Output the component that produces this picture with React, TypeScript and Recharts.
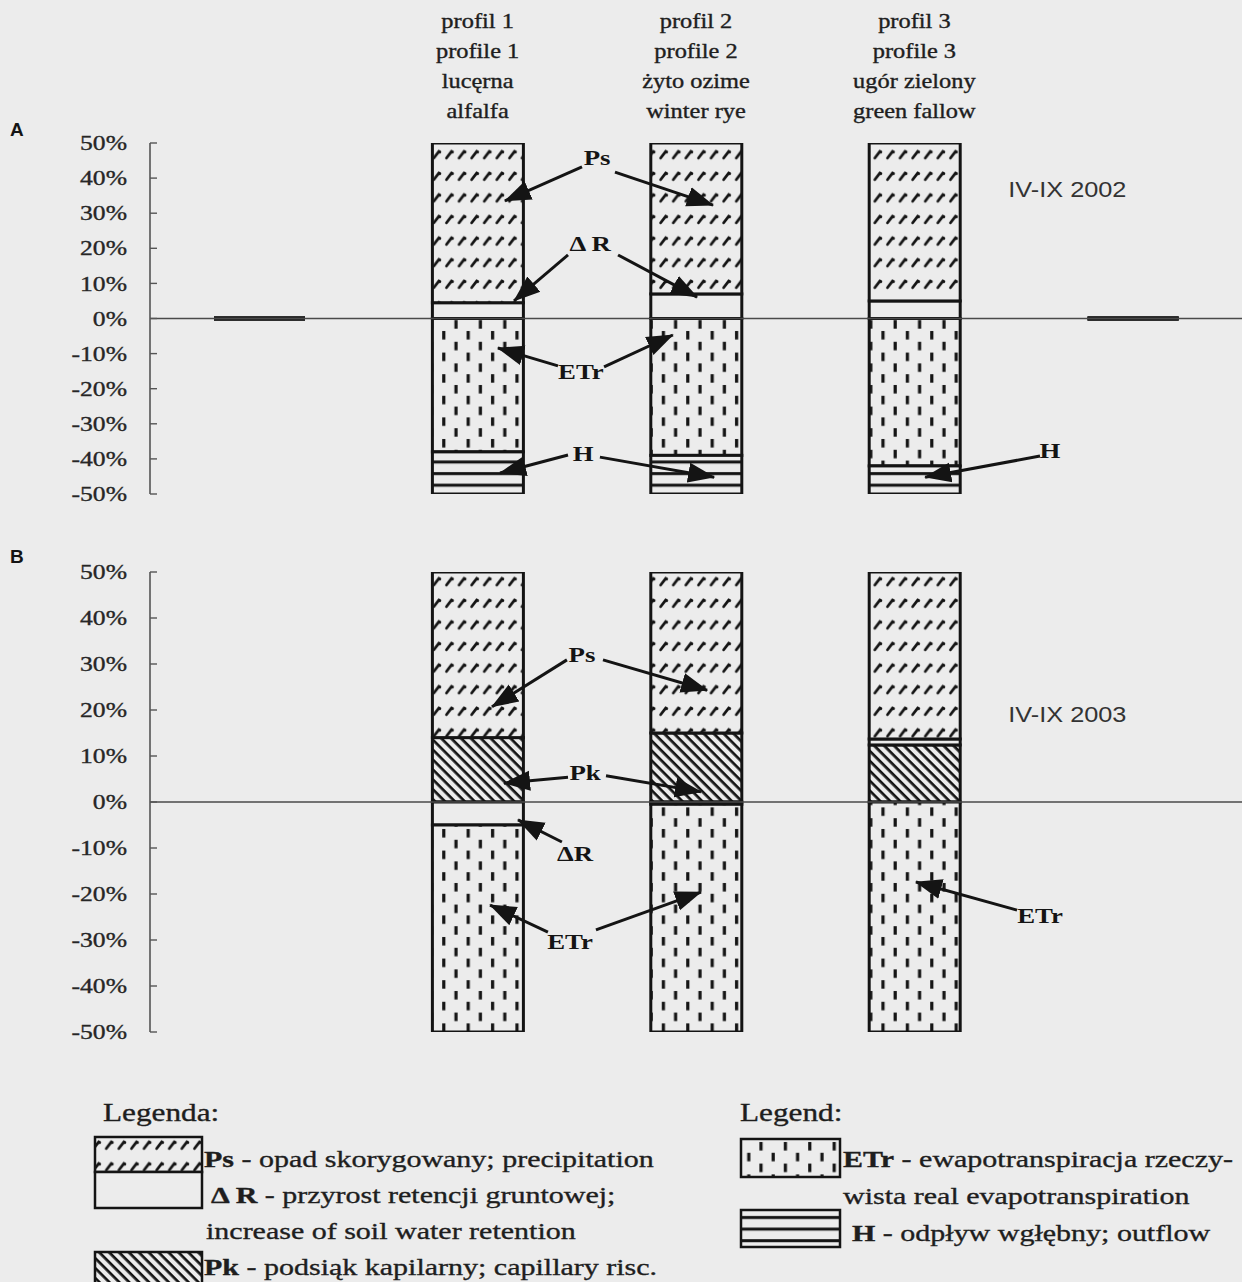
import React from 'react';
import { BarChart, Bar, XAxis, YAxis, ReferenceLine, ReferenceDot } from 'recharts';

// categories: two empty slots around the three profiles
const categories = ['c0', 'p1', 'p2', 'p3', 'c4'];
const profileNames: Record<string, string[]> = {
  p1: ['profil 1', 'profile 1', 'lucęrna', 'alfalfa'],
  p2: ['profil 2', 'profile 2', 'żyto ozime', 'winter rye'],
  p3: ['profil 3', 'profile 3', 'ugór zielony', 'green fallow'],
};
const yTicks = [50, 40, 30, 20, 10, 0, -10, -20, -30, -40, -50];

// A: IV-IX 2002 (% of water balance)
const aDR = [0, 4.5, 7, 5, 0];
const aPs = [0, 45.5, 43, 45, 0];
const aETr = [0, -38, -39, -42, 0];
const aH = [0, -12, -11, -8, 0];

// B: IV-IX 2003
const bPk = [null, 14, 15, 12.4, null];
const bDR = [null, -5, -0.5, 1.3, null];
const bPs = [null, 36, 35, 36.3, null];
const bETr = [null, -45, -49.5, -50, null];

// annotations: [text, category position (0..4), %]
const labelsA: [string, number, number][] = [
  ['Ps', 1.547, 46], ['Δ R', 1.515, 21.5], ['ETr', 1.473, -15.2], ['H', 1.483, -38.3], ['H', 3.621, -37.5],
];
// arrows: [x from, y from, x to, y to]
const arrowsA: number[][] = [
  [1.478, 43.2, 1.125, 33.5], [1.629, 41.7, 2.078, 32.3],
  [1.414, 18.1, 1.167, 5.0], [1.643, 18.1, 2.005, 6.1],
  [1.368, -13.5, 1.093, -8.4], [1.579, -13.8, 1.894, -4.7],
  [1.414, -38.9, 1.103, -44.0], [1.56, -39.5, 2.083, -45.2],
  [3.575, -39.2, 3.049, -45.2],
];
const labelsB: [string, number, number][] = [
  ['Ps', 1.478, 32.2], ['Pk', 1.492, 6.5], ['ΔR', 1.446, -11.1], ['ETr', 1.423, -30.4], ['ETr', 3.575, -24.6],
];
const arrowsB: number[][] = [
  [1.409, 30.9, 1.066, 20.7], [1.574, 30.9, 2.051, 24.3],
  [1.414, 5.4, 1.121, 4.1], [1.588, 5.7, 2.023, 2.2],
  [1.386, -8.7, 1.185, -3.9],
  [1.322, -28.3, 1.057, -22.4], [1.542, -27.8, 2.023, -19.6],
  [3.47, -23.5, 3.007, -17.4],
];

const INK = '#141414';
const BG = '#ececec';
const SERIF = '"Liberation Serif", "Times New Roman", serif';
const SANS = '"Liberation Sans", Arial, sans-serif';
const SX = 1.22;
const LSX = 1.25;

// the hidden numeric axis spans the whole plot as 0..4; category i sits at (i + 0.5) * 0.8
const pos = (v: number) => (v + 0.5) * 0.8;

const dataA = categories.map((c, i) => ({ cat: c, dR: aDR[i], Ps: aPs[i], ETr: aETr[i], H: aH[i] }));
const dataB = categories.map((c, i) => ({ cat: c, Pk: bPk[i], dR: bDR[i], Ps: bPs[i], ETr: bETr[i] }));

const patterns = (s: string, psY: number, etrY: number, hY: number) => (
  <defs>
    <pattern id={`ps${s}`} patternUnits="userSpaceOnUse" x={2} y={psY} width={12.6} height={21.6}>
      <rect width={12.6} height={21.6} fill={BG} />
      <path d="M3.5,13.5 L8.5,7 L9.5,7.5" stroke={INK} strokeWidth={2.8} strokeLinecap="round" fill="none" />
    </pattern>
    <pattern id={`etr${s}`} patternUnits="userSpaceOnUse" x={0} y={etrY} width={24.4} height={21.6}>
      <rect width={24.4} height={21.6} fill={BG} />
      <rect x={3} y={2} width={3.2} height={8.5} fill={INK} />
      <rect x={15.2} y={12.8} width={3.2} height={8.5} fill={INK} />
    </pattern>
    <pattern id={`h${s}`} patternUnits="userSpaceOnUse" x={0} y={hY} width={10} height={11.6}>
      <rect width={10} height={11.6} fill={BG} />
      <rect x={0} y={4} width={10} height={3} fill={INK} />
    </pattern>
    <pattern id={`pk${s}`} patternUnits="userSpaceOnUse" width={10} height={7} patternTransform="rotate(45)">
      <rect width={10} height={7} fill={BG} />
      <rect x={0} y={2} width={10} height={2.7} fill={INK} />
    </pattern>
    <marker id={`arr${s}`} markerUnits="userSpaceOnUse" markerWidth={30} markerHeight={24} refX={26} refY={12} orient="auto">
      <path d="M0,2 L27,12 L0,22 z" fill={INK} />
    </marker>
  </defs>
);

const segment = (key: string, fill: string, zeroLine: boolean) => (props: any) => {
  const { x, y, width, height, payload } = props;
  const v = payload ? payload[key] : null;
  if (v == null) return <g />;
  if (!height) {
    return zeroLine ? <rect x={x} y={y - 2} width={width} height={4} fill="#222" /> : <g />;
  }
  const top = height < 0 ? y + height : y;
  return <rect x={x} y={top} width={width} height={Math.abs(height)} fill={fill} stroke={INK} strokeWidth={3} />;
};

const ProfileTick = (props: any) => {
  const { x, y, payload } = props;
  const lines = profileNames[payload.value] || [];
  return (
    <g>
      {lines.map((t, i) => (
        <text key={i} transform={`translate(${x},${y - (lines.length - 1 - i) * 30}) scale(${SX},1)`}
          textAnchor="middle" fontFamily={SERIF} fontSize={20} fill="#1e1e1e" stroke="#1e1e1e" strokeWidth={0.35}>{t}</text>
      ))}
    </g>
  );
};

const YTick = (props: any) => {
  const { x, y, payload } = props;
  return (
    <text transform={`translate(${x},${y}) scale(${SX},1)`} textAnchor="end" dominantBaseline="central"
      fontFamily={SERIF} fontSize={21} fill="#262626" stroke="#262626" strokeWidth={0.35}>{payload.value}%</text>
  );
};

const labelShape = (text: string, sans = false) => (p: any) => (
  <text transform={`translate(${p.cx},${p.cy}) scale(${sans ? 1.15 : SX},1)`} textAnchor={sans ? 'start' : 'middle'}
    dominantBaseline="central" fontFamily={sans ? SANS : SERIF} fontWeight={sans ? 'normal' : 'bold'}
    fontSize={22} fill={sans ? '#333' : INK}>{text}</text>
);

const arrowShape = (s: string) => (p: any) => (
  <line x1={p.x1} y1={p.y1} x2={p.x2} y2={p.y2} stroke={INK} strokeWidth={3} markerEnd={`url(#arr${s})`} />
);

function Annotations(s: string, labels: [string, number, number][], arrows: number[][], period: string, py: number) {
  return [
    ...arrows.map((a, i) => (
      <ReferenceLine key={`a${i}`} xAxisId="n" ifOverflow="visible"
        segment={[{ x: pos(a[0]), y: a[1] }, { x: pos(a[2]), y: a[3] }]} shape={arrowShape(s)} />
    )),
    ...labels.map((l, i) => (
      <ReferenceDot key={`l${i}`} xAxisId="n" x={pos(l[1])} y={l[2]} r={0} ifOverflow="visible" shape={labelShape(l[0])} />
    )),
    <ReferenceDot key="period" xAxisId="n" x={pos(3.43)} y={py} r={0} ifOverflow="visible" shape={labelShape(period, true)} />,
  ];
}

const yAxisProps = {
  width: 150,
  domain: [-50, 50] as [number, number],
  ticks: yTicks,
  interval: 0 as const,
  tickSize: -7,
  tickMargin: 30,
  tick: <YTick />,
  axisLine: { stroke: '#555', strokeWidth: 1.6 },
  tickLine: { stroke: '#555', strokeWidth: 1.4 },
  allowDataOverflow: true,
};

export default function App() {
  return (
    <div style={{ position: 'absolute', left: 0, top: 0, width: 1242, height: 1282, background: BG, overflow: 'hidden' }}>
      <div style={{ position: 'absolute', left: 10, top: 119, fontFamily: SANS, fontWeight: 'bold', fontSize: 19, color: INK }}>A</div>
      <div style={{ position: 'absolute', left: 10, top: 546, fontFamily: SANS, fontWeight: 'bold', fontSize: 19, color: INK }}>B</div>

      <div style={{ position: 'absolute', left: 0, top: 0 }}>
        <BarChart width={1242} height={520} data={dataA} stackOffset="sign" barSize={91}
          margin={{ top: 0, right: 0, bottom: 26, left: 0 }}>
          {patterns('A', 144.5, 329, 456.5)}
          <XAxis dataKey="cat" orientation="top" height={143} interval={0} tickLine={false} axisLine={false}
            tickSize={0} tickMargin={25} tick={<ProfileTick />} />
          <XAxis xAxisId="n" type="number" domain={[0, 4]} hide allowDataOverflow />
          <YAxis {...yAxisProps} />
          <ReferenceLine y={0} stroke="#4a4a4a" strokeWidth={1.6} />
          <Bar dataKey="dR" stackId="s" isAnimationActive={false} shape={segment('dR', BG, true)} />
          <Bar dataKey="Ps" stackId="s" isAnimationActive={false} shape={segment('Ps', 'url(#psA)', true)} />
          <Bar dataKey="ETr" stackId="s" isAnimationActive={false} shape={segment('ETr', 'url(#etrA)', true)} />
          <Bar dataKey="H" stackId="s" isAnimationActive={false} shape={segment('H', 'url(#hA)', true)} />
          {Annotations('A', labelsA, arrowsA, 'IV-IX 2002', 36.6)}
        </BarChart>
      </div>

      <div style={{ position: 'absolute', left: 0, top: 520 }}>
        <BarChart width={1242} height={540} data={dataB} stackOffset="sign" barSize={91}
          margin={{ top: 52, right: 0, bottom: 28, left: 0 }}>
          {patterns('B', 51.5, 307, 0)}
          <XAxis dataKey="cat" hide />
          <XAxis xAxisId="n" type="number" domain={[0, 4]} hide allowDataOverflow />
          <YAxis {...yAxisProps} />
          <ReferenceLine y={0} stroke="#4a4a4a" strokeWidth={1.6} />
          <Bar dataKey="Pk" stackId="s" isAnimationActive={false} shape={segment('Pk', 'url(#pkB)', false)} />
          <Bar dataKey="dR" stackId="s" isAnimationActive={false} shape={segment('dR', BG, false)} />
          <Bar dataKey="Ps" stackId="s" isAnimationActive={false} shape={segment('Ps', 'url(#psB)', false)} />
          <Bar dataKey="ETr" stackId="s" isAnimationActive={false} shape={segment('ETr', 'url(#etrB)', false)} />
          {Annotations('B', labelsB, arrowsB, 'IV-IX 2003', 18.9)}
        </BarChart>
      </div>

      <svg width={1242} height={202} style={{ position: 'absolute', left: 0, top: 1080 }}>
        <g transform="translate(0,-1080)">
          {patterns('L', 1135, 1140, 1212)}
          <g fontFamily={SERIF} fontSize={24} fill="#1e1e1e" stroke="#1e1e1e" strokeWidth={0.35}>
            <text transform={`translate(103,1121) scale(${LSX},1)`} fontSize={25}>Legenda:</text>
            <rect x={95} y={1137} width={107} height={35} fill="url(#psL)" stroke={INK} strokeWidth={2.5} />
            <rect x={95} y={1172} width={107} height={36} fill={BG} stroke={INK} strokeWidth={2.5} />
            <text transform={`translate(204,1167) scale(${LSX},1)`}><tspan fontWeight="bold">Ps</tspan> - opad skorygowany; precipitation</text>
            <text transform={`translate(211,1203) scale(${LSX},1)`}><tspan fontWeight="bold">Δ R</tspan> - przyrost retencji gruntowej;</text>
            <text transform={`translate(206,1239) scale(${LSX},1)`}>increase of soil water retention</text>
            <rect x={95} y={1252} width={107} height={34} fill="url(#pkL)" stroke={INK} strokeWidth={2.5} />
            <text transform={`translate(204,1275) scale(${LSX},1)`}><tspan fontWeight="bold">Pk</tspan> - podsiąk kapilarny; capillary risc.</text>

            <text transform={`translate(740,1121) scale(${LSX},1)`} fontSize={25}>Legend:</text>
            <rect x={741} y={1139} width={99} height={38} fill="url(#etrL)" stroke={INK} strokeWidth={2.5} />
            <text transform={`translate(843,1167) scale(${LSX},1)`}><tspan fontWeight="bold">ETr</tspan> - ewapotranspiracja rzeczy-</text>
            <text transform={`translate(843,1204) scale(${LSX},1)`}>wista real evapotranspiration</text>
            <rect x={741} y={1210} width={99} height={37} fill="url(#hL)" stroke={INK} strokeWidth={2.5} />
            <text transform={`translate(852,1241) scale(${LSX},1)`}><tspan fontWeight="bold">H</tspan> - odpływ wgłębny; outflow</text>
          </g>
        </g>
      </svg>
    </div>
  );
}
